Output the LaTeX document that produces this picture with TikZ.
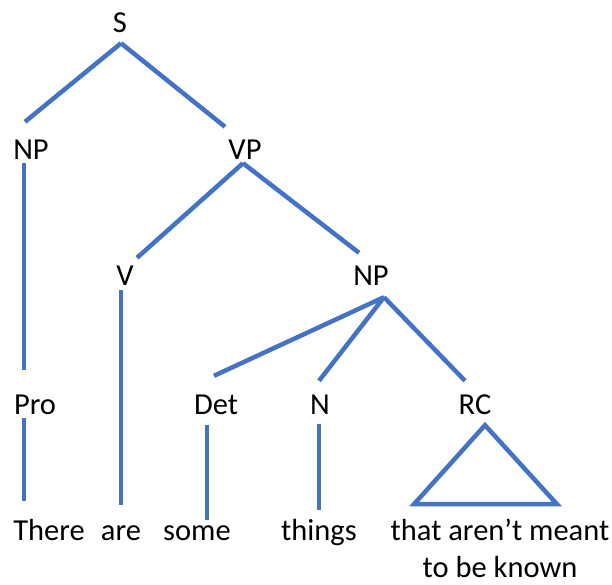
\documentclass[tikz,border=0pt]{standalone}
\usepackage{fontspec}
\setmainfont{Carlito}
\usetikzlibrary{positioning}
\definecolor{treeblue}{HTML}{4472C4}

\begin{document}
\begin{tikzpicture}[x=1pt,y=-1pt,
  cat/.style={inner sep=0pt,anchor=base,text height=19pt,text depth=0pt,font=\fontsize{30.5}{37}\selectfont},
  word/.style={inner sep=0pt,anchor=base,text height=21pt,text depth=0pt,font=\fontsize{30.5}{37}\selectfont},
  branch/.style={draw=treeblue,line width=4.5pt}]
 \useasboundingbox (0,0) rectangle (612,584);
 % categories
 \node[cat] (S) at (120,32) {S};
 \node[cat] (NPa) at (31,159) {NP};
 \node[cat] (VP) at (245,159) {VP};
 \node[cat] (V) at (125,285) {V};
 \node[cat] (NPb) at (371,285) {NP};
 \node[cat] (Pro) at (35,414) {Pro};
 \node[cat] (Det) at (216,414) {Det};
 \node[cat] (N) at (320,414) {N};
 \node[cat] (RC) at (475,414) {RC};
 % words
 \node[word] (There) at (49,540) {There};
 \node[word] (are) at (121,540) {are};
 \node[word] (some) at (197,540) {some};
 \node[word] (things) at (319,540) {things};
 \node[inner sep=0pt,anchor=north,align=center,text depth=0pt,font=\fontsize{30.5}{37}\selectfont] (clause) at (500,519) {that aren’t meant\\to be known};
 % branches
 \draw[branch] ([shift={(1,11)}]S.south) -- ([shift={(-6,-18)}]NPa.north);
 \draw[branch] ([shift={(1,11)}]S.south) -- ([shift={(-20,-13)}]VP.north);
 \draw[branch] ([shift={(-7,4)}]NPa.south) -- ([shift={(-11,-25)}]Pro.north);
 \draw[branch] ([shift={(-2,4)}]VP.south) -- ([shift={(12,-8)}]V.north);
 \draw[branch] ([shift={(-2,4)}]VP.south) -- ([shift={(-12,-13)}]NPb.north);
 \draw[branch] ([shift={(-4,5)}]V.south) -- ([shift={(0,-14)}]are.north);
 \draw[branch] ([shift={(13,12)}]NPb.south) -- ([shift={(-2,-19)}]Det.north);
 \draw[branch] ([shift={(13,12)}]NPb.south) -- ([shift={(-1,-14)}]N.north);
 \draw[branch] ([shift={(13,12)}]NPb.south) -- ([shift={(-10,-14)}]RC.north);
 \draw[branch] ([shift={(-11,4)}]Pro.south) -- ([shift={(-25,-18)}]There.north);
 \draw[branch] ([shift={(-9,11)}]Det.south) -- ([shift={(10,1)}]some.north);
 \draw[branch] ([shift={(-1,10)}]N.south) -- ([shift={(0,-9)}]things.north);
 \draw[branch] ([shift={(10,11)}]RC.south) -- ([shift={(-61,90)}]RC.south) -- ([shift={(82,90)}]RC.south) -- cycle;
\end{tikzpicture}
\end{document}
